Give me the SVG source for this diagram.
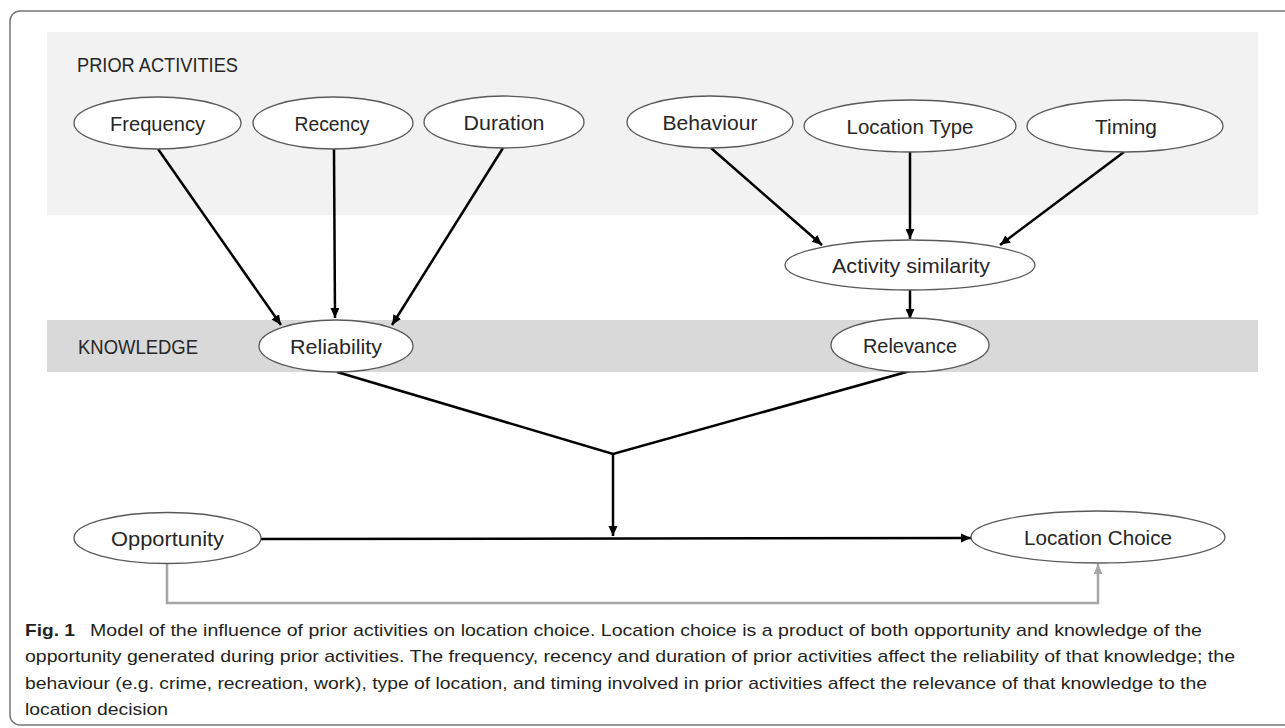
<svg xmlns="http://www.w3.org/2000/svg" width="1285" height="728" viewBox="0 0 1285 728">
<style>
.node ellipse{fill:#fff;stroke:#595959;stroke-width:1.3}
.lbl{font-family:"Liberation Sans",Arial,sans-serif;font-size:21px;fill:#262626;text-anchor:middle}
.hdr{font-family:"Liberation Sans",Arial,sans-serif;font-size:21px;fill:#262626}
.cap{font-family:"Liberation Sans",Arial,sans-serif;font-size:17px;fill:#231f20}
.edge{stroke:#000;stroke-width:2.5;fill:none}
.gedge{stroke:#a6a6a6;stroke-width:2.5;fill:none}
</style>
<defs>
<marker id="ah" markerUnits="userSpaceOnUse" markerWidth="11" markerHeight="10" refX="10" refY="4.5" orient="auto">
<path d="M0,0 L10,4.5 L0,9 z" fill="#000"/>
</marker>
<marker id="ahg" markerUnits="userSpaceOnUse" markerWidth="11" markerHeight="10" refX="10" refY="4.5" orient="auto">
<path d="M0,0 L10,4.5 L0,9 z" fill="#a6a6a6"/>
</marker>
</defs>
<rect x="0" y="0" width="1285" height="728" fill="#fff"/>
<rect x="10" y="11" width="1290" height="714" rx="10" fill="none" stroke="#777" stroke-width="1.5"/>
<rect x="47" y="32" width="1211" height="183" fill="#f2f2f2"/>
<rect x="47" y="320" width="1211" height="52" fill="#d9d9d9"/>
<text class="hdr" x="77" y="72" textLength="161" lengthAdjust="spacingAndGlyphs">PRIOR ACTIVITIES</text>
<text class="hdr" x="78" y="354" textLength="120" lengthAdjust="spacingAndGlyphs">KNOWLEDGE</text>
<g id="connectors">
<line class="edge" x1="158" y1="149" x2="281" y2="325" marker-end="url(#ah)"/>
<line class="edge" x1="334" y1="149" x2="335" y2="318" marker-end="url(#ah)"/>
<line class="edge" x1="503" y1="148" x2="392" y2="325" marker-end="url(#ah)"/>
<line class="edge" x1="711" y1="148" x2="822" y2="245" marker-end="url(#ah)"/>
<line class="edge" x1="910" y1="152" x2="910" y2="239" marker-end="url(#ah)"/>
<line class="edge" x1="1124" y1="152" x2="1000" y2="245" marker-end="url(#ah)"/>
<line class="edge" x1="910" y1="290" x2="910" y2="319" marker-end="url(#ah)"/>
<polyline class="edge" points="337,372 613,454 910,371"/>
<line class="edge" x1="613" y1="454" x2="613" y2="536" marker-end="url(#ah)"/>
<line class="edge" x1="261" y1="539" x2="971" y2="538" marker-end="url(#ah)"/>
<path class="gedge" d="M167,564 V603 H1098 V564" marker-end="url(#ahg)"/>
</g>
<g id="n-frequency" class="node"><ellipse cx="157.5" cy="123" rx="83.5" ry="26"/><text class="lbl" x="157.5" y="130.5" textLength="95" lengthAdjust="spacingAndGlyphs">Frequency</text></g>
<g id="n-recency" class="node"><ellipse cx="333" cy="123" rx="80" ry="26"/><text class="lbl" x="332" y="130.5" textLength="75" lengthAdjust="spacingAndGlyphs">Recency</text></g>
<g id="n-duration" class="node"><ellipse cx="504" cy="122" rx="80" ry="26"/><text class="lbl" x="504" y="129.5" textLength="81" lengthAdjust="spacingAndGlyphs">Duration</text></g>
<g id="n-behaviour" class="node"><ellipse cx="710" cy="122" rx="83" ry="26"/><text class="lbl" x="710" y="129.5" textLength="95" lengthAdjust="spacingAndGlyphs">Behaviour</text></g>
<g id="n-locationtype" class="node"><ellipse cx="910" cy="126" rx="106" ry="26"/><text class="lbl" x="910" y="133.5" textLength="127" lengthAdjust="spacingAndGlyphs">Location Type</text></g>
<g id="n-timing" class="node"><ellipse cx="1125" cy="126" rx="98" ry="26"/><text class="lbl" x="1126" y="133.5" textLength="62" lengthAdjust="spacingAndGlyphs">Timing</text></g>
<g id="n-activitysimilarity" class="node"><ellipse cx="910" cy="265" rx="125" ry="25"/><text class="lbl" x="911" y="272.5" textLength="158" lengthAdjust="spacingAndGlyphs">Activity similarity</text></g>
<g id="n-reliability" class="node"><ellipse cx="336" cy="346" rx="77" ry="26"/><text class="lbl" x="336" y="353.5" textLength="92" lengthAdjust="spacingAndGlyphs">Reliability</text></g>
<g id="n-relevance" class="node"><ellipse cx="910" cy="345" rx="79" ry="27"/><text class="lbl" x="910" y="352.5" textLength="94" lengthAdjust="spacingAndGlyphs">Relevance</text></g>
<g id="n-opportunity" class="node"><ellipse cx="167.5" cy="538" rx="93.5" ry="25.5"/><text class="lbl" x="167.5" y="545.5" textLength="113" lengthAdjust="spacingAndGlyphs">Opportunity</text></g>
<g id="n-locationchoice" class="node"><ellipse cx="1098" cy="537" rx="127" ry="26"/><text class="lbl" x="1098" y="544.5" textLength="148" lengthAdjust="spacingAndGlyphs">Location Choice</text></g>
<g id="caption">
<text class="cap" x="25" y="636" font-weight="bold" textLength="50" lengthAdjust="spacingAndGlyphs">Fig. 1</text>
<text class="cap" x="90" y="636" textLength="1112" lengthAdjust="spacingAndGlyphs">Model of the influence of prior activities on location choice. Location choice is a product of both opportunity and knowledge of the</text>
<text class="cap" x="25" y="662" textLength="1210" lengthAdjust="spacingAndGlyphs">opportunity generated during prior activities. The frequency, recency and duration of prior activities affect the reliability of that knowledge; the</text>
<text class="cap" x="25" y="689" textLength="1182" lengthAdjust="spacingAndGlyphs">behaviour (e.g. crime, recreation, work), type of location, and timing involved in prior activities affect the relevance of that knowledge to the</text>
<text class="cap" x="25" y="715" textLength="143" lengthAdjust="spacingAndGlyphs">location decision</text>
</g>
</svg>
